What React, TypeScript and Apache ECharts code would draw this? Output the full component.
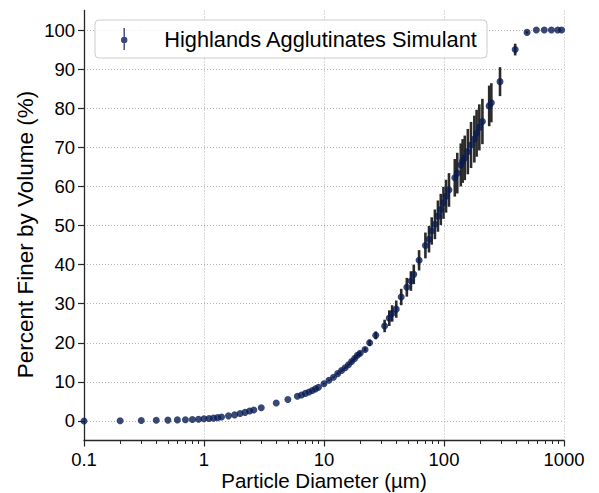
import React, { useEffect, useRef } from 'react';
import * as echarts from 'echarts';

const seriesName = 'Highlands Agglutinates Simulant';

const diameters = [
  0.1, 0.2, 0.3, 0.4, 0.5, 0.6, 0.7, 0.8, 0.9, 1.0,
  1.1, 1.2, 1.3, 1.4, 1.6, 1.8, 2.0, 2.2, 2.4, 2.6,
  3.0, 4.0, 5.0, 6.0, 6.5, 7.0, 7.5, 8.0, 8.5, 9.0,
  10, 11, 12, 13, 14, 15, 16, 17, 18, 19,
  20, 22, 24, 27, 32, 35, 37, 40, 44, 49,
  53, 56, 62, 70, 75, 79, 84, 89, 94, 99,
  104, 110, 123, 129, 138, 143, 149, 158, 168, 179,
  187, 197, 209, 238, 248, 293, 392, 492, 588, 685,
  785, 886, 955,
];

const percentFiner = [
  0, 0.05, 0.12, 0.18, 0.22, 0.27, 0.3, 0.38, 0.45, 0.55,
  0.63, 0.72, 0.85, 1.0, 1.3, 1.55, 1.9, 2.2, 2.55, 2.8,
  3.4, 4.6, 5.5, 6.3, 6.65, 7.05, 7.4, 7.8, 8.2, 8.6,
  9.5, 10.4, 11.2, 12.1, 12.9, 13.6, 14.4, 15.2, 16.0, 16.8,
  17.3, 18.3, 20.0, 21.9, 24.3, 26.3, 27.5, 28.6, 31.7, 34.2,
  35.8, 37.5, 41.1, 44.9, 46.5, 48.6, 50.3, 52.4, 54.1, 55.8,
  57.5, 59.1, 62.2, 63.4, 65.5, 66.5, 67.3, 68.9, 70.6, 72.1,
  73.6, 75.1, 76.6, 80.6, 81.4, 86.8, 95.0, 99.4, 100, 100,
  100, 100, 100,
];

const errorHalf = [
  0, 0, 0, 0, 0, 0, 0, 0, 0, 0,
  0, 0, 0, 0, 0, 0, 0, 0, 0, 0,
  0, 0, 0, 0, 0, 0, 0, 0, 0, 0,
  0.2, 0.2, 0.2, 0.3, 0.3, 0.3, 0.3, 0.4, 0.4, 0.4,
  0.5, 0.5, 0.8, 1.0, 1.6, 2.0, 2.1, 2.2, 2.1, 2.4,
  2.5, 2.5, 2.6, 3.3, 3.4, 3.5, 3.8, 4.0, 4.0, 4.1,
  4.2, 4.3, 4.8, 5.2, 5.5, 5.6, 5.7, 5.8, 5.9, 6.0,
  6.0, 5.9, 5.8, 5.2, 5.0, 3.7, 1.5, 0.3, 0, 0,
  0, 0, 0,
];

const xTickValues = [0.1, 1, 10, 100, 1000];
const yTickValues = [0, 10, 20, 30, 40, 50, 60, 70, 80, 90, 100];

const FONT = '"Liberation Sans", Arial, Helvetica, sans-serif';
const POINT_COLOR = '#071a52';
const BAR_COLOR = '#2b2b2b';
const GRID_COLOR = '#b3b3b3';
const AXIS_COLOR = '#262626';

const legendIcon =
  'path://M3.3,0 L4.7,0 L4.7,22 L3.3,22 Z M0.8,12 A3.2,3.2 0 1,1 7.2,12 A3.2,3.2 0 1,1 0.8,12 Z';

export default function App() {
  const ref = useRef<HTMLDivElement>(null);

  useEffect(() => {
    if (!ref.current) return;
    const chart = echarts.init(ref.current, undefined, { renderer: 'svg' });

    const points = diameters.map((d, i) => [d, percentFiner[i]]);
    const bars = diameters.map((d, i) => [
      d,
      percentFiner[i] - errorHalf[i],
      percentFiner[i] + errorHalf[i],
    ]);

    chart.setOption({
      animation: false,
      backgroundColor: '#ffffff',
      textStyle: { fontFamily: FONT },
      grid: {
        left: 84,
        right: 35,
        top: 10.5,
        bottom: 52.5,
        containLabel: false,
        outerBoundsMode: 'none',
      },
      legend: {
        left: 95,
        top: 20,
        orient: 'horizontal',
        data: [{ name: seriesName, icon: legendIcon }],
        itemWidth: 8,
        itemHeight: 22,
        padding: [8, 9, 8, 26],
        backgroundColor: 'rgba(255,255,255,0.8)',
        borderColor: '#cccccc',
        borderWidth: 1,
        borderRadius: 4,
        textStyle: {
          fontFamily: FONT,
          fontSize: 21.8,
          color: '#000000',
          padding: [0, 0, 0, 31],
        },
      },
      xAxis: {
        type: 'log',
        logBase: 10,
        min: 0.1,
        max: 1000,
        name: 'Particle Diameter (µm)',
        nameLocation: 'middle',
        nameGap: 29,
        nameMoveOverlap: false,
        nameTextStyle: { fontFamily: FONT, fontSize: 20.5, color: '#000000', lineHeight: 21 },
        axisLine: { show: true, onZero: false, lineStyle: { color: AXIS_COLOR, width: 1.3 } },
        axisTick: { show: true, length: 6, inside: false, lineStyle: { color: AXIS_COLOR, width: 1.2 } },
        minorTick: { show: true, splitNumber: 9, length: 3.5, lineStyle: { color: AXIS_COLOR, width: 1 } },
        axisLabel: {
          fontFamily: FONT,
          fontSize: 18.5,
          lineHeight: 19,
          color: '#000000',
          margin: 9,
          formatter: (v: number) => {
            const hit = xTickValues.find((t) => Math.abs(Math.log10(t) - Math.log10(v)) < 1e-6);
            return hit === undefined ? '' : String(hit);
          },
        },
        splitLine: { show: true, lineStyle: { color: GRID_COLOR, type: [1, 2], width: 1 } },
      },
      yAxis: {
        type: 'value',
        min: -5,
        max: 105,
        interval: 5,
        name: 'Percent Finer by Volume (%)',
        nameLocation: 'middle',
        nameRotate: 90,
        nameGap: 47,
        nameMoveOverlap: false,
        nameTextStyle: {
          fontFamily: FONT,
          fontSize: 22.5,
          color: '#000000',
          padding: [0, 18, 0, 0],
        },
        axisLine: { show: true, onZero: false, lineStyle: { color: AXIS_COLOR, width: 1.3 } },
        axisTick: {
          show: true,
          length: 6,
          customValues: yTickValues,
          lineStyle: { color: AXIS_COLOR, width: 1.2 },
        },
        axisLabel: {
          fontFamily: FONT,
          fontSize: 18.5,
          color: '#000000',
          margin: 9,
          customValues: yTickValues,
        },
        splitLine: { show: true, lineStyle: { color: GRID_COLOR, type: [1, 2], width: 1 } },
      },
      series: [
        {
          name: 'errorbars',
          type: 'custom',
          silent: true,
          z: 2,
          encode: { x: 0, y: [1, 2] },
          data: bars,
          renderItem: (params: any, api: any) => {
            const x = api.value(0);
            const lo = api.value(1);
            const hi = api.value(2);
            if (hi - lo <= 0) return null;
            const p1 = api.coord([x, lo]);
            const p2 = api.coord([x, hi]);
            return {
              type: 'line',
              shape: { x1: p1[0], y1: p1[1], x2: p2[0], y2: p2[1] },
              style: { stroke: BAR_COLOR, lineWidth: 2.6 },
            };
          },
        },
        {
          name: seriesName,
          type: 'scatter',
          z: 3,
          symbol: 'circle',
          symbolSize: 7,
          itemStyle: { color: POINT_COLOR },
          data: points,
        },
      ],
    });

    return () => {
      chart.dispose();
    };
  }, []);

  return (
    <div
      ref={ref}
      style={{ position: 'absolute', left: 0, top: 0, width: 599, height: 493, background: '#fff' }}
    />
  );
}
